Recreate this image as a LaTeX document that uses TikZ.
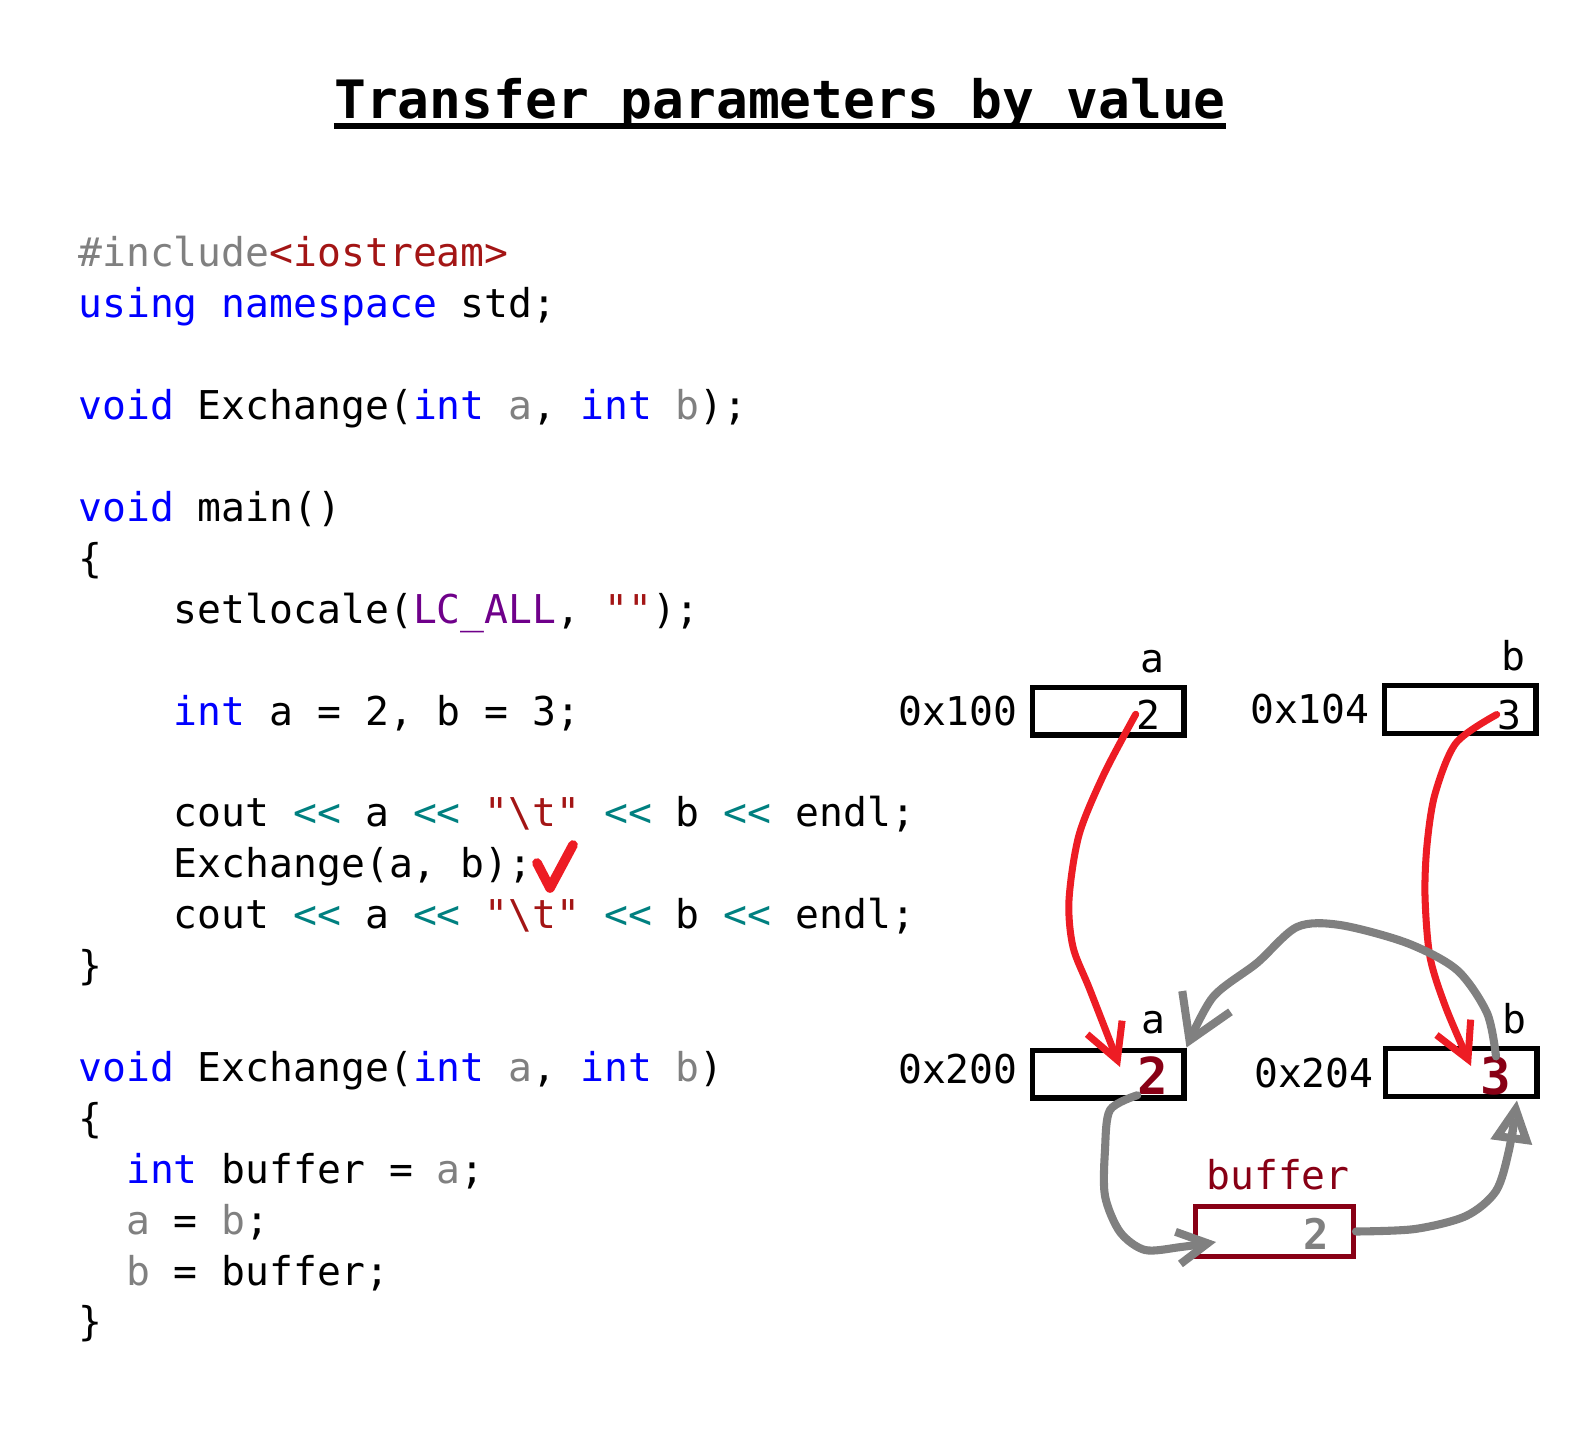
\documentclass[tikz,border=0pt]{standalone}
\usepackage{fontspec}
\setmonofont{DejaVu Sans Mono}
\usetikzlibrary{arrows.meta}

\definecolor{kwblue}{RGB}{0,0,255}
\definecolor{prmgray}{RGB}{128,128,128}
\definecolor{strred}{RGB}{163,21,21}
\definecolor{macpurple}{RGB}{111,0,138}
\definecolor{opteal}{RGB}{0,128,128}
\definecolor{penred}{RGB}{237,28,36}
\definecolor{pengray}{RGB}{128,128,128}
\definecolor{darkred}{RGB}{136,0,21}

\newcommand{\kw}[1]{\textcolor{kwblue}{#1}}
\newcommand{\prm}[1]{\textcolor{prmgray}{#1}}
\newcommand{\str}[1]{\textcolor{strred}{#1}}
\newcommand{\opl}{\textcolor{opteal}{<<}}

\begin{document}
\begin{tikzpicture}[x=0.02cm,y=-0.02cm,
	code/.style={anchor=base west, inner sep=0pt, font=\ttfamily\fontsize{22.6}{27}\selectfont},
	lbl/.style={code, anchor=base},
	addr/.style={code, anchor=base east},
	cell/.style={draw, line width=2.85pt, minimum width=3.04cm, minimum height=0.96cm, inner sep=0pt},
	scrawl/.style={inner sep=0pt, font=\ttfamily\bfseries\fontsize{29}{30}\selectfont},
	redpen/.style={draw=penred, line width=4pt, line cap=round, line join=round, -{Straight Barb[length=0.7cm,width=0.75cm]}},
	graypen/.style={draw=pengray, line width=4.6pt, line cap=round, line join=round, -{Straight Barb[length=0.6cm,width=0.65cm]}}]
	\useasboundingbox (0,0) rectangle (1596,1432);

	% title
	\node[inner sep=0pt, anchor=base, font=\ttfamily\bfseries\fontsize{30.1}{32}\selectfont] (title) at (780,119) {Transfer parameters by value};
	\draw[line width=2.9pt] ([yshift=-4pt]title.base west) -- ([yshift=-4pt]title.base east);

	% code
	\node[code] (inc) at (78,267) {\prm{\#include}\str{<iostream>}};
	\node[code] (usng) at (78,317.9) {\kw{using namespace} std;};
	\node[code] (decl) at (78,419.7) {\kw{void} Exchange(\kw{int} \prm{a}, \kw{int} \prm{b});};
	\node[code] (mainhd) at (78,521.5) {\kw{void} main()};
	\node[code] (mainob) at (78,572.4) {\{};
	\node[code] (setloc) at (173.6,623.3) {setlocale(\textcolor{macpurple}{LC\_ALL}, \str{""});};
	\node[code] (intab) at (173.6,725.1) {\kw{int} a = 2, b = 3;};
	\node[code] (coutA) at (173.6,826.9) {cout \opl{} a \opl{} \str{"\textbackslash t"} \opl{} b \opl{} endl;};
	\node[code] (call) at (173.6,877.8) {Exchange(a, b);};
	\node[code] (coutB) at (173.6,928.7) {cout \opl{} a \opl{} \str{"\textbackslash t"} \opl{} b \opl{} endl;};
	\node[code] (maincb) at (78,979.6) {\}};
	\node[code] (exhd) at (78,1081.4) {\kw{void} Exchange(\kw{int} \prm{a}, \kw{int} \prm{b})};
	\node[code] (exob) at (78,1132.3) {\{};
	\node[code] (bufdecl) at (125.8,1183.2) {\kw{int} buffer = \prm{a};};
	\node[code] (asga) at (125.8,1234.1) {\prm{a} = \prm{b};};
	\node[code] (asgb) at (125.8,1285) {\prm{b} = buffer;};
	\node[code] (excb) at (78,1335.9) {\}};

	% tick
	\draw[draw=penred, line width=5.5pt, line cap=round, line join=round] (537,863) -- (550,888) -- (573,845);

	% variables of main
	\node[cell] (ma) at (1108,711) {};
	\node[cell] (mb) at (1460,709.5) {};
	\node[addr] (adrA) at (1018,725) {0x100};
	\node[addr] (adrB) at (1370,723) {0x104};
	\node[lbl] (nameA) at (1152,672) {a};
	\node[lbl] (nameB) at (1513,670) {b};
	\node[lbl] (va) at (1148,729) {2};
	\node[lbl] (vb) at (1509,729) {3};

	% parameters of Exchange
	\node[cell] (pa) at (1108,1074) {};
	\node[cell] (pb) at (1461,1072.5) {};
	\node[addr] (adrC) at (1018,1083) {0x200};
	\node[addr] (adrD) at (1374,1087) {0x204};
	\node[lbl] (nameC) at (1153,1033) {a};
	\node[lbl] (nameD) at (1514,1033) {b};
	\node[scrawl, text=darkred] (wa) at (1153,1076) {2};
	\node[scrawl, text=darkred] (wb) at (1496,1076) {3};

	% buffer
	\node[cell, draw=darkred, minimum width=3.16cm, minimum height=1cm] (buf) at (1274.5,1231.5) {};
	\node[lbl, text=darkred] (nameBuf) at (1278,1189) {buffer};
	\node[scrawl, text=pengray, font=\ttfamily\bfseries\fontsize{24}{26}\selectfont] (wbuf) at (1316,1234) {2};

	\coordinate (tipA) at (1120,1067);
	\coordinate (tipB) at (1471,1066);
	\coordinate (tipBuf) at (1216,1242);
	\coordinate (tipPb) at (1517,1100);

	% copies
	\draw[redpen] plot[smooth] coordinates {(va.west) (1104,774) (1079,835) (1069,900) (1073,947) (1090,990) (tipA)};
	\draw[redpen] plot[smooth] coordinates {(vb.west) (1456,743) (1435,794) (1427,845) (1425,896) (1430,957) (1446,1008) (tipB)};

	% swap
	\draw[graypen, -{Straight Barb[length=0.85cm,width=1.05cm]}] plot[smooth] coordinates {(wb.north) (1487,1013) (1457,970) (1407,943) (1340,925) (1297,927) (1257,963) (1213,997) (pa.north east)};
	\draw[graypen] plot[smooth] coordinates {(wa.south west) (1110,1110) (1105,1150) (1105,1196) (1120,1232) (1145,1250) (1181,1247) (tipBuf)};
	\draw[graypen, -{Triangle[open,length=0.85cm,width=0.8cm]}] plot[smooth] coordinates {(buf.east) (1415,1229) (1466,1216) (1496,1191) (1509,1150) (tipPb)};
\end{tikzpicture}
\end{document}
